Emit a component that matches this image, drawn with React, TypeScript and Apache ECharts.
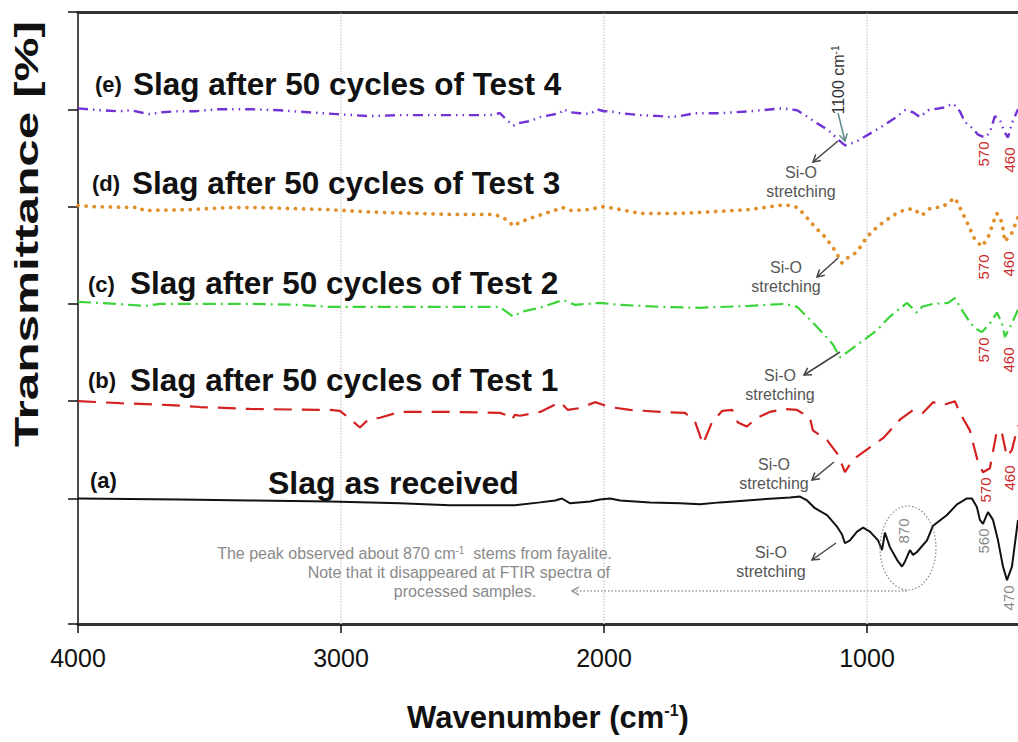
import React, { useEffect, useRef } from "react";
import * as echarts from "echarts";

const FONT = "'Liberation Sans', Arial, Helvetica, sans-serif";

// x axis (wavenumber, reversed)
const xMin = 426;
const xMax = 4000;
const xTicks = [1000, 2000, 3000, 4000];
const gridLines = [3000, 2000, 1000];
// y axis (stacked transmittance, offset units)
const yMin = -0.29;
const yMax = 6;
const yTicks = [-0.29, 1, 2, 3, 4, 5, 6];

// (e) Slag after 50 cycles of Test 4
const specE: [number, number][] = [
  [4000, 5.01], [3916, 4.99], [3845, 4.98], [3800, 4.99], [3730, 4.95], [3680, 4.97], [3620, 4.98],
  [3555, 4.98], [3471, 5.0], [3335, 5.0], [3232, 4.99], [3183, 4.98], [3015, 4.95], [2890, 4.93],
  [2776, 4.94], [2586, 4.94], [2434, 4.94], [2396, 4.96], [2377, 4.91], [2346, 4.83], [2319, 4.86],
  [2281, 4.88], [2243, 4.92], [2205, 4.94], [2167, 4.96], [2156, 5.0], [2129, 4.97], [2091, 4.96],
  [2053, 4.95], [2027, 5.0], [2000, 4.98], [1977, 4.98], [1939, 4.96], [1901, 4.95], [1863, 4.94],
  [1787, 4.93], [1749, 4.92], [1711, 4.93], [1654, 4.96], [1559, 4.96], [1445, 4.98], [1320, 5.01],
  [1266, 4.99], [1236, 4.94], [1198, 4.87], [1149, 4.79], [1110, 4.69], [1084, 4.63], [1046, 4.66],
  [1008, 4.72], [951, 4.81], [894, 4.91], [856, 4.99], [825, 4.97], [799, 4.92], [768, 4.99],
  [704, 5.02], [673, 5.06], [647, 4.98], [628, 4.87], [601, 4.81], [578, 4.74], [552, 4.71],
  [533, 4.76], [514, 4.93], [495, 4.89], [476, 4.76], [464, 4.71], [449, 4.86], [426, 5.0],
];

// (d) Slag after 50 cycles of Test 3
const specD: [number, number][] = [
  [4000, 4.01], [3943, 4.0], [3764, 3.99], [3752, 3.96], [3563, 3.97], [3433, 3.99], [3308, 3.99],
  [3183, 3.98], [3053, 3.97], [2928, 3.95], [2852, 3.94], [2586, 3.92], [2415, 3.92], [2365, 3.86],
  [2346, 3.8], [2319, 3.84], [2281, 3.88], [2224, 3.93], [2156, 3.99], [2129, 3.96], [2053, 3.97],
  [2008, 4.0], [1958, 3.98], [1863, 3.93], [1711, 3.93], [1635, 3.94], [1445, 3.97], [1312, 4.02],
  [1263, 3.99], [1236, 3.91], [1198, 3.79], [1160, 3.69], [1122, 3.55], [1095, 3.42], [1076, 3.47],
  [1046, 3.52], [1027, 3.58], [1000, 3.69], [958, 3.8], [901, 3.91], [863, 3.96], [825, 3.98],
  [791, 3.91], [761, 3.98], [711, 4.0], [666, 4.09], [647, 3.99], [620, 3.84], [590, 3.66],
  [563, 3.59], [540, 3.68], [521, 3.83], [506, 3.93], [487, 3.84], [476, 3.64], [449, 3.73],
  [426, 3.89],
];

// (c) Slag after 50 cycles of Test 2
const specC: [number, number][] = [
  [4000, 3.02], [3916, 3.01], [3745, 2.98], [3688, 3.0], [3536, 3.0], [3346, 3.0], [3156, 2.99],
  [3042, 2.97], [2852, 2.97], [2586, 2.97], [2396, 2.97], [2377, 2.93], [2346, 2.87], [2312, 2.92],
  [2243, 2.96], [2156, 3.04], [2110, 2.99], [2015, 3.01], [1939, 2.99], [1787, 2.97], [1635, 2.96],
  [1445, 2.98], [1312, 3.0], [1266, 2.97], [1217, 2.84], [1168, 2.7], [1129, 2.58], [1103, 2.45],
  [1072, 2.51], [1027, 2.6], [962, 2.73], [913, 2.87], [848, 3.01], [810, 2.91], [791, 2.97],
  [749, 3.0], [692, 3.01], [666, 3.06], [647, 2.97], [616, 2.84], [590, 2.75], [563, 2.71],
  [533, 2.8], [506, 2.91], [487, 2.8], [476, 2.66], [449, 2.8], [426, 2.94],
];

// (b) Slag after 50 cycles of Test 1
const specB: [number, number][] = [
  [4000, 2.0], [3840, 1.98], [3650, 1.96], [3536, 1.94], [3346, 1.92], [3042, 1.91], [3004, 1.9],
  [2985, 1.86], [2958, 1.8], [2928, 1.73], [2897, 1.81], [2852, 1.83], [2776, 1.89], [2586, 1.89],
  [2396, 1.88], [2365, 1.85], [2350, 1.81], [2339, 1.86], [2319, 1.85], [2243, 1.89], [2167, 1.99],
  [2137, 1.91], [2091, 1.93], [2034, 1.99], [1977, 1.94], [1901, 1.91], [1787, 1.89], [1692, 1.88],
  [1654, 1.79], [1624, 1.56], [1590, 1.78], [1551, 1.9], [1513, 1.91], [1491, 1.78], [1457, 1.74],
  [1418, 1.83], [1369, 1.89], [1312, 1.92], [1266, 1.91], [1217, 1.83], [1206, 1.7], [1152, 1.6],
  [1110, 1.45], [1084, 1.27], [1053, 1.4], [977, 1.55], [939, 1.62], [875, 1.81], [825, 1.91],
  [787, 1.88], [749, 1.99], [711, 1.96], [666, 2.0], [647, 1.88], [609, 1.7], [578, 1.37],
  [559, 1.27], [533, 1.31], [506, 1.7], [487, 1.67], [468, 1.43], [449, 1.5], [426, 1.75],
];

// (a) Slag as received
const specA: [number, number][] = [
  [4000, 1.0], [3612, 0.99], [3346, 0.98], [3042, 0.97], [2776, 0.95], [2586, 0.93], [2396, 0.93],
  [2339, 0.93], [2243, 0.96], [2186, 0.98], [2160, 1.0], [2129, 0.95], [2053, 0.97], [2015, 0.99],
  [1977, 1.0], [1939, 0.98], [1825, 0.96], [1711, 0.95], [1635, 0.94], [1559, 0.96], [1407, 0.99],
  [1293, 1.01], [1255, 1.02], [1228, 0.98], [1198, 0.9], [1152, 0.83], [1114, 0.71], [1095, 0.63],
  [1084, 0.54], [1065, 0.57], [1038, 0.66], [1015, 0.7], [989, 0.66], [958, 0.57], [943, 0.47],
  [932, 0.65], [913, 0.5], [886, 0.37], [867, 0.3], [856, 0.35], [837, 0.47], [825, 0.42],
  [810, 0.45], [772, 0.57], [749, 0.72], [696, 0.83], [658, 0.94], [620, 1.0], [601, 1.0],
  [582, 0.91], [571, 0.78], [559, 0.74], [548, 0.81], [540, 0.86], [521, 0.78], [502, 0.57],
  [483, 0.3], [468, 0.16], [449, 0.3], [426, 0.78],
];

const panelTags = ["(a)", "(b)", "(c)", "(d)", "(e)"];
const panelTitles = [
  "Slag as received",
  "Slag after 50 cycles of Test 1",
  "Slag after 50 cycles of Test 2",
  "Slag after 50 cycles of Test 3",
  "Slag after 50 cycles of Test 4",
];
const seriesColors = ["#111111", "#d42222", "#3ad43a", "#e0902c", "#7232d6"];

function arrow(x1: number, y1: number, x2: number, y2: number, color: string, dash?: number[]) {
  const a = Math.atan2(y2 - y1, x2 - x1);
  const h = 8;
  const p1 = [x2 - h * Math.cos(a - Math.PI / 6), y2 - h * Math.sin(a - Math.PI / 6)];
  const p2 = [x2 - h * Math.cos(a + Math.PI / 6), y2 - h * Math.sin(a + Math.PI / 6)];
  return [
    {
      type: "line",
      shape: { x1, y1, x2, y2 },
      style: { stroke: color, lineWidth: 1.5, lineDash: dash || null },
      z: 50,
    },
    {
      type: "polyline",
      shape: { points: [p1, [x2, y2], p2] },
      style: { stroke: color, lineWidth: 1.5, fill: null },
      z: 50,
    },
  ];
}

function txt(x: number, y: number, text: string, o: any = {}) {
  return {
    type: "text",
    x,
    y,
    rotation: o.rotation || 0,
    scaleX: o.scaleX || 1,
    z: 60,
    style: {
      text,
      fill: o.fill || "#111",
      fontSize: o.fontSize || 16,
      fontWeight: o.fontWeight || "normal",
      fontFamily: FONT,
      align: o.align || "left",
      verticalAlign: "middle",
      lineHeight: o.lineHeight,
      rich: o.rich,
    },
  };
}

export default function App() {
  const ref = useRef<HTMLDivElement>(null);
  useEffect(() => {
    document.body.style.margin = "0";
    const chart = echarts.init(ref.current!, null, { renderer: "svg", width: 1018, height: 742 });

    const supRich = { sup: { fontSize: 10, verticalAlign: "top", lineHeight: 10, fontFamily: FONT } };
    const red = "#cc2a2a";
    const gray = "#8a8a8a";
    const si = "#555555";

    const tagPos = [
      [90, 480, 268, 483],
      [88, 380, 130, 380],
      [88, 284, 130, 283],
      [92, 183, 132, 183],
      [95, 84, 133, 84],
    ];

    const graphics: any[] = [];
    // y axis title
    graphics.push(
      txt(27, 234, "Transmittance [%]", {
        rotation: Math.PI / 2,
        scaleX: 1.5,
        fontSize: 33,
        fontWeight: "bold",
        align: "center",
      })
    );
    panelTags.forEach((t, i) => {
      const p = tagPos[i];
      graphics.push(txt(p[0], p[1], t, { fontSize: 22, fontWeight: "bold" }));
      graphics.push(txt(p[2], p[3], panelTitles[i], { fontSize: i === 0 ? 32 : 31.5, fontWeight: "bold" }));
    });
    // Si-O stretching labels
    const siPos = [
      [771, 562],
      [774, 474],
      [780, 385],
      [786, 277],
      [801, 182],
    ];
    siPos.forEach((p) =>
      graphics.push(txt(p[0], p[1], "Si-O\nstretching", { fill: si, align: "center", lineHeight: 19 }))
    );
    // arrows
    graphics.push(...arrow(836, 543, 812, 560, "#444"));
    graphics.push(...arrow(834, 462, 812, 480, "#444"));
    graphics.push(...arrow(840, 352, 804, 375, "#444"));
    graphics.push(...arrow(838, 258, 817, 277, "#444"));
    graphics.push(...arrow(838, 141, 813, 162, "#444"));
    graphics.push(...arrow(838, 113, 845, 141, "#5f8a8a"));
    graphics.push(...arrow(907, 591, 572, 591, "#9a9a9a", [1.5, 2]));
    // 1100 cm-1
    graphics.push(
      txt(838, 80, "1100 cm{sup|-1}", { rotation: Math.PI / 2, align: "center", fill: "#333", rich: supRich })
    );
    // band numbers
    const redNums: [number, number, string][] = [
      [983, 154, "570"], [1009, 160, "460"],
      [983, 267, "570"], [1008, 264, "460"],
      [983, 350, "570"], [1008, 360, "460"],
      [985, 490, "570"], [1009, 478, "460"],
    ];
    redNums.forEach(([x, y, t]) =>
      graphics.push(txt(x, y, t, { rotation: Math.PI / 2, align: "center", fill: red, fontSize: 15 }))
    );
    const grayNums: [number, number, string][] = [
      [983, 541, "560"], [1008, 598, "470"], [903, 531, "870"],
    ];
    grayNums.forEach(([x, y, t]) =>
      graphics.push(txt(x, y, t, { rotation: Math.PI / 2, align: "center", fill: gray, fontSize: 15 }))
    );
    // fayalite ellipse
    graphics.push({
      type: "ellipse",
      shape: { cx: 908, cy: 548, rx: 28, ry: 42 },
      style: { stroke: "#888", lineWidth: 1.2, lineDash: [1.5, 2], fill: null },
      z: 50,
    });
    graphics.push(
      txt(612, 553, "The peak observed about 870 cm{sup|-1}  stems from fayalite.", {
        fill: gray,
        align: "right",
        rich: supRich,
      })
    );
    graphics.push(txt(610, 572, "Note that it disappeared at FTIR spectra of", { fill: gray, align: "right" }));
    graphics.push(txt(465, 591, "processed samples.", { fill: gray, align: "center" }));

    const specs = [specA, specB, specC, specD, specE];
    const styles: any[] = [
      { width: 2, type: "solid" },
      { width: 2.2, type: [18, 10] },
      { width: 2.2, type: [13, 5, 2, 5] },
      { width: 3.8, type: [0.1, 8], cap: "round" },
      { width: 2.4, type: [10, 5, 1.5, 5, 1.5, 5] },
    ];

    const series: any[] = specs.map((d, i) => ({
      type: "line",
      name: panelTitles[i],
      data: d,
      showSymbol: false,
      symbol: "none",
      z: 10 - i,
      lineStyle: { color: seriesColors[i], ...styles[i] },
      markLine:
        i === 0
          ? {
              silent: true,
              symbol: ["none", "none"],
              label: { show: false },
              lineStyle: { color: "#d2d2d2", type: "dotted", width: 1.5 },
              data: gridLines.map((v) => ({ xAxis: v })),
            }
          : undefined,
    }));

    const option: any = {
      animation: false,
      backgroundColor: "#ffffff",
      grid: { left: 78, right: 0, top: 12, bottom: 118 },
      xAxis: [
        {
          type: "value",
          inverse: true,
          min: xMin,
          max: xMax,
          position: "bottom",
          axisLine: { onZero: false, lineStyle: { color: "#333", width: 3 } },
          axisTick: { customValues: xTicks, length: 9, lineStyle: { color: "#111", width: 1.5 } },
          axisLabel: {
            customValues: xTicks,
            fontSize: 25,
            color: "#111",
            margin: 21,
            fontFamily: FONT,
            formatter: (v: number) => String(v),
          },
          splitLine: { show: false },
          name: "Wavenumber (cm{sup|-1})",
          nameLocation: "middle",
          nameGap: 78,
          nameTextStyle: {
            fontSize: 31,
            fontWeight: "bold",
            color: "#111",
            fontFamily: FONT,
            rich: { sup: { fontSize: 16, fontWeight: "bold", verticalAlign: "top", lineHeight: 14, fontFamily: FONT } },
          },
        },
        {
          type: "value",
          inverse: true,
          min: xMin,
          max: xMax,
          position: "top",
          axisLine: { onZero: false, lineStyle: { color: "#333", width: 3 } },
          axisTick: { show: false },
          axisLabel: { show: false },
          splitLine: { show: false },
        },
      ],
      yAxis: {
        type: "value",
        min: yMin,
        max: yMax,
        axisLine: { show: true, onZero: false, lineStyle: { color: "#111", width: 1.5 } },
        axisTick: { show: true, customValues: yTicks, length: 10, lineStyle: { color: "#111", width: 1.5 } },
        axisLabel: { show: false },
        splitLine: { show: false },
      },
      series,
      graphic: { elements: graphics },
    };
    chart.setOption(option);
    return () => chart.dispose();
  }, []);
  return <div ref={ref} style={{ width: 1018, height: 742, position: "absolute", left: 0, top: 0 }} />;
}
